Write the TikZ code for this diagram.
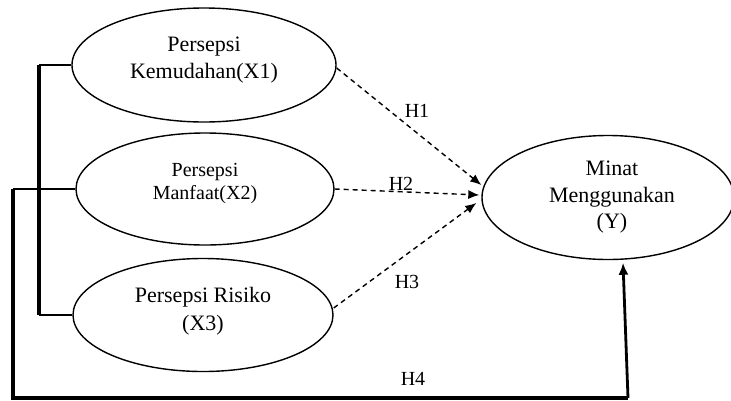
\documentclass[tikz,border=0pt]{standalone}
\usepackage{fontspec}
\setmainfont{Liberation Serif}
\usetikzlibrary{shapes.geometric,arrows.meta}
\begin{document}
\begin{tikzpicture}[x=1pt,y=-1pt,
  ell/.style={draw,ellipse,line width=1.4pt,inner sep=0pt},
  lbl/.style={align=center,inner sep=0pt,font=\fontsize{22}{27}\selectfont},
  hyp/.style={line width=1.4pt,dash pattern=on 5pt off 4pt,-{Latex[length=11pt,width=9pt]}},
  hl/.style={inner sep=0pt,font=\fontsize{20}{24}\selectfont},
  link/.style={line width=1.6pt},
  bar/.style={line width=3.2pt},
]
\useasboundingbox (0,0) rectangle (731,400);

% constructs
\node[ell,minimum width=264pt,minimum height=114pt] (x1) at (204,65) {};
\node[ell,minimum width=258pt,minimum height=112pt] (x2) at (205,189) {};
\node[ell,minimum width=260pt,minimum height=113pt] (x3) at (203,315) {};
\node[ell,minimum width=252pt,minimum height=124pt] (y) at (608,197.5) {};

\node[lbl] (x1t) at ([yshift=5pt]x1.center) {Persepsi\\Kemudahan(X1)};
\node[lbl,font=\fontsize{20}{23}\selectfont] (x2t) at ([yshift=5pt]x2.center) {Persepsi\\Manfaat(X2)};
\node[lbl,font=\fontsize{22}{28}\selectfont] (x3t) at ([yshift=4pt]x3.center) {Persepsi Risiko\\(X3)};
\node[lbl,font=\fontsize{22}{26.5}\selectfont] (yt) at ([xshift=4pt]y.center) {Minat\\Menggunakan\\(Y)};

% bracket joining X1 and X3
\coordinate (ka) at (39,65);
\coordinate (kb) at (39,315);
\draw[link] (x1.west) -- (ka);
\draw[bar] (ka) -- (kb);
\draw[link] (kb) -- (x3.west);

% simultaneous path from X2 to Y
\coordinate (c1) at (13,189);
\coordinate (c2) at (13,398);
\coordinate (c3) at (628,398);
\draw[link] (x2.west) -- (c1);
\draw[bar,line join=miter] (c1) -- (c2) -- (c3);
\draw[line width=2.8pt,-{Latex[length=12pt,width=10pt]}] (c3) -- ([xshift=15pt,yshift=-2.5pt]y.south);

% partial hypotheses
\draw[hyp] ([yshift=-3pt]x1.east) -- ([yshift=12.5pt]y.west);
\draw[hyp] (x2.east) -- ([xshift=-2pt,yshift=2.5pt]y.west);
\draw[hyp] ([yshift=7pt]x3.east) -- ([xshift=-5pt,yshift=-5.5pt]y.west);

\node[hl] (h1) at (417,111) {H1};
\node[hl] (h2) at (401,184) {H2};
\node[hl] (h3) at (407,282) {H3};
\node[hl] (h4) at (413,379) {H4};
\end{tikzpicture}
\end{document}
